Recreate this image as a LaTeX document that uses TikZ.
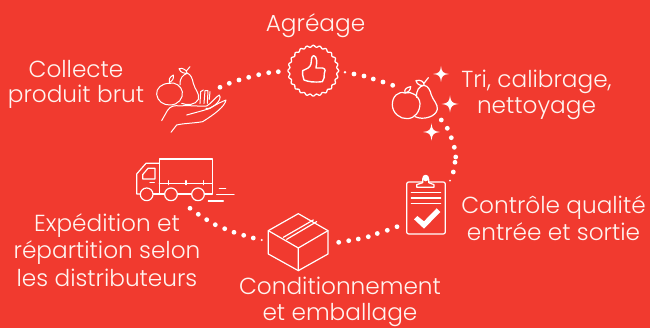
\documentclass[tikz,border=0pt]{standalone}
\usepackage{fontspec}
\setmainfont{Poppins Light}
\definecolor{bgred}{HTML}{F13A2F}
\definecolor{ink}{HTML}{FFF4F0}
\tikzset{
  lbl/.style={text=ink,align=center,font=\fontsize{23.2}{27.3}\selectfont,inner sep=0pt},
  icon/.style={draw=white,line width=1.2pt,line join=round,line cap=round,fill=none},
  bead/.style={fill=white,draw=none}
}
\newcommand{\beads}[1]{\foreach \px/\py in {#1}{\fill[bead] (\px,\py) circle (2.4);}}
\newcommand{\sparkle}[3]{\fill[white,shift={(#1,#2)},scale=#3] (0,-1) .. controls (0.08,-0.25) and (0.25,-0.08) .. (1,0) .. controls (0.25,0.08) and (0.08,0.25) .. (0,1) .. controls (-0.08,0.25) and (-0.25,0.08) .. (-1,0) .. controls (-0.25,-0.08) and (-0.08,-0.25) .. (0,-1) -- cycle;}
\begin{document}
\begin{tikzpicture}[x=1pt,y=-1pt]
\useasboundingbox (0,0) rectangle (650,328);
\fill[bgred] (0,0) rectangle (650,328);
% dots
\beads{220/87.3,229.3/83.3,239/80,248.7/77.3,258.7/74.7,268.7/72.7,278.3/71.7,354/74,364/76,373.3/79,383/82,392.7/85.3,441.3/120,447.3/128.3,451.3/137.7,454.3/147.3,455.7/157,455/162.3,453.3/172,397/226.7,387.3/230.3,377.3/233.5,368.3/236.7,358.3/239,348.7/240.7,338.7/242.3,253.3/238,243.7/235.3,234/232.3,224.7/228.7,215.3/224.7,206.7/219.7,198.3/214.3,190/208.3}
\fill[bead] (345,72.3) circle (1.4) (450,180.7) circle (1) (261.7,240) circle (1.2);
% seal + thumb
\draw[icon,line width=1.3pt,smooth,samples=240,domain=0:360] plot ({313.3+(24.5+0.9*cos(24*\x))*cos(\x)},{70.7+(24.5+0.9*cos(24*\x))*sin(\x)});
\begin{scope}[shift={(130,40)},x=0.3333pt,y=-0.3333pt]
\draw[icon,line width=1.4pt] (518,92) .. controls (530,86) and (540,84) .. (543,72) .. controls (545,60) and (543,50) .. (551,47) .. controls (562,48) and (561,70) .. (558,84) -- (578,84) .. controls (588,86) and (586,96) .. (583,100) .. controls (584,110) and (582,118) .. (577,125) .. controls (550,128) and (535,125) .. (522,120) .. controls (518,110) and (517,100) .. (518,92) -- cycle;
% hand with fruit
\draw[icon,line width=1pt] (118,130) .. controls (95,130) and (78,145) .. (80,163) .. controls (82,183) and (100,196) .. (120,195) .. controls (145,195) and (160,175) .. (157,155) .. controls (154,138) and (135,125) .. (118,130) -- cycle;
\draw[icon,line width=1pt] (118,128) .. controls (115,120) and (118,112) .. (130,105) .. controls (132,115) and (128,122) .. (118,128);
\draw[icon,line width=1pt] (150,135) .. controls (148,115) and (160,103) .. (172,100) .. controls (182,102) and (187,115) .. (190,130) .. controls (195,150) and (210,160) .. (205,178) .. controls (198,195) and (170,197) .. (155,190);
\draw[icon,line width=1pt] (172,100) -- (168,92) (168,92) .. controls (160,84) and (150,84) .. (147,86) .. controls (152,100) and (165,100) .. (172,100) (170,92) -- (180,80);
\draw[icon,line width=1pt] (210,190) -- (212,155) -- (220,150) (222,190) -- (225,152) -- (234,152) -- (232,190) (238,178) -- (240,155);
\draw[icon,line width=1pt] (95,242) -- (112,212) .. controls (120,198) and (135,195) .. (150,198) .. controls (175,195) and (210,200) .. (230,198) .. controls (245,190) and (255,172) .. (268,165) .. controls (274,172) and (268,185) .. (255,195) .. controls (245,202) and (235,208) .. (228,205);
\draw[icon,line width=1pt] (170,225) .. controls (195,218) and (220,212) .. (240,205) .. controls (255,195) and (275,185) .. (288,180) .. controls (285,200) and (250,225) .. (218,245) .. controls (190,250) and (160,250) .. (140,255) -- (123,277);
\end{scope}
% pear + apple right
\begin{scope}[shift={(370,50)},x=0.3333pt,y=-0.3333pt]
\draw[icon] (105,129) .. controls (85,122) and (66,140) .. (67,165) .. controls (68,190) and (90,207) .. (112,206) .. controls (135,205) and (150,185) .. (150,160) .. controls (148,138) and (125,122) .. (105,129) -- cycle;
\draw[icon] (105,128) .. controls (102,120) and (108,112) .. (122,110) .. controls (122,120) and (115,128) .. (105,128);
\draw[icon] (140,142) .. controls (138,120) and (148,108) .. (162,106) .. controls (175,108) and (180,120) .. (184,135) .. controls (190,152) and (204,162) .. (202,178) .. controls (198,200) and (160,212) .. (135,200);
\draw[icon] (162,106) .. controls (165,95) and (150,88) .. (138,92) .. controls (140,105) and (155,108) .. (162,106) (162,100) -- (175,83);
% clipboard
\draw[icon,rounded corners=2pt] (110,396) rectangle (226,552);
\draw[icon,fill=bgred] (158,388) .. controls (158,372) and (176,372) .. (176,388) -- (176,398) -- (192,404) -- (192,412) -- (140,412) -- (140,404) -- (158,398) -- cycle;
\fill[white] (167,385) circle (3pt);
\draw[icon] (124,428) -- (212,428) (124,444) -- (212,444) (124,461) -- (212,461);
\fill[white] (132,508) -- (142,498) -- (162,514) -- (200,475) -- (211,486) -- (162,536) -- cycle;
\end{scope}
\sparkle{441}{74}{8}
\sparkle{450}{104}{8.5}
\sparkle{431.5}{132}{8.5}
% truck and box
\begin{scope}[shift={(120,150)},x=0.3333pt,y=-0.3333pt]
\draw[icon,fill=none] (118,132) -- (118,27) -- (277,27) -- (277,132) -- (253,132);
\draw[icon] (118,101) -- (277,101);
\draw[icon] (145,92) -- (145,104) (198,92) -- (198,104) (251,92) -- (251,104);
\draw[icon] (118,40) -- (78,40) -- (50,72) -- (50,132) -- (60,132);
\draw[icon] (100,132) -- (133,132) (172,132) -- (214,132);
\draw[icon] (68,87) -- (68,74) -- (84,55) -- (105,55) -- (105,87) -- cycle;
\draw[icon] (90,98) -- (103,98);
\draw[icon] (80,133) circle (19) (153,133) circle (19) (234,133) circle (19);
\draw[icon] (298,116) -- (317,116) (290,134) -- (342,134) (265,153) -- (310,153);
% box
\draw[icon] (445,242) -- (535,191) -- (624,242) -- (624,312) -- (535,362) -- (445,312) -- cycle;
\draw[icon] (445,242) -- (535,294) -- (624,242) (535,294) -- (535,362);
\draw[icon] (490,262) -- (580,210) (500,268) -- (590,215);
\end{scope}
% labels
\node[lbl] (a) at (315.5,26) {Agréage};
\node[lbl,font=\fontsize{23.2}{25.5}\selectfont] (b) at (76,84.5) {Collecte\\produit brut};
\node[lbl,font=\fontsize{23.2}{26.5}\selectfont] (c) at (536.5,95) {Tri, calibrage,\\nettoyage};
\node[lbl] (d) at (553.5,218.5) {Contrôle qualité\\entrée et sortie};
\node[lbl,font=\fontsize{23.2}{26.5}\selectfont] (e) at (340,302) {Conditionnement\\et emballage};
\node[lbl] (f) at (107,250) {Expédition et\\répartition selon\\les distributeurs};
\end{tikzpicture}
\end{document}
